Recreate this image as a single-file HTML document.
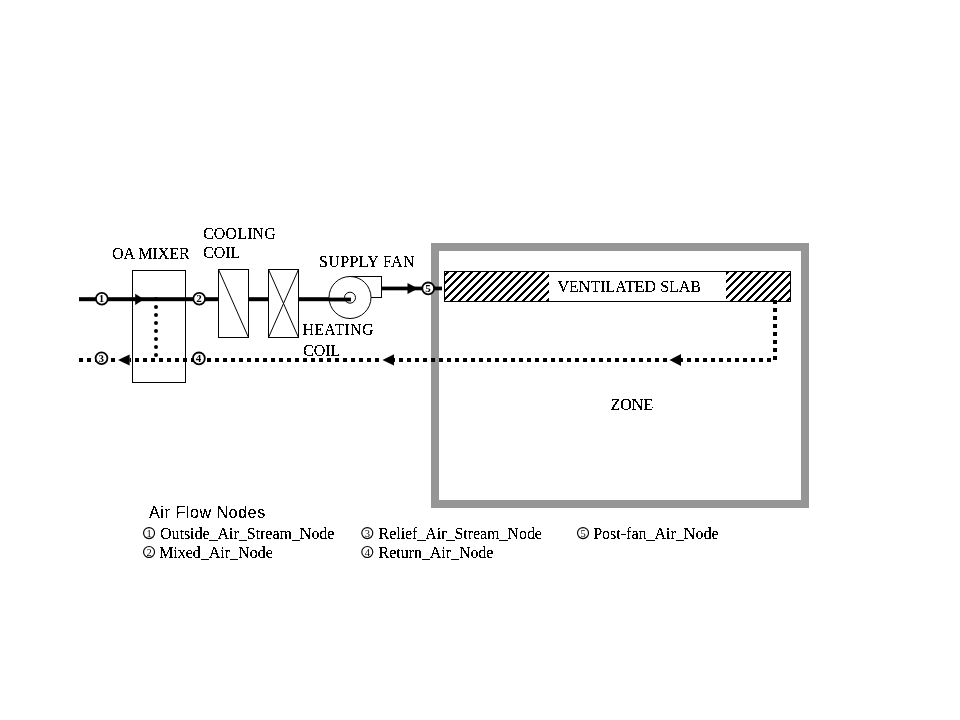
<!DOCTYPE html>
<html><head><meta charset="utf-8"><title>Ventilated Slab Diagram</title>
<style>
html,body{margin:0;padding:0;background:#fff;width:960px;height:720px;overflow:hidden}
svg{display:block}
.s{font-family:"Liberation Serif",serif;font-size:16px;fill:#000}
.a{font-family:"Liberation Sans",sans-serif;font-size:16px;fill:#000}
.d{font-family:"Liberation Serif",serif;font-size:10px;fill:#000;text-anchor:middle}
</style></head>
<body>
<svg width="960" height="720" viewBox="0 0 960 720">
<defs><pattern id="h" patternUnits="userSpaceOnUse" x="0" y="0" width="8" height="8"><path shape-rendering="crispEdges" fill="#000" d="M0 0h1v1h-1zM6 0h2v1h-2zM5 1h3v1h-3zM4 2h3v1h-3zM3 3h3v1h-3zM2 4h3v1h-3zM1 5h3v1h-3zM0 6h3v1h-3zM0 7h2v1h-2zM7 7h1v1h-1z"/></pattern>
<filter id="gs" x="0" y="0" width="100%" height="100%" color-interpolation-filters="sRGB"><feOffset dx="0" dy="0"/></filter>
<filter id="crisp" x="0" y="0" width="100%" height="100%" color-interpolation-filters="sRGB"><feComponentTransfer><feFuncA type="discrete" tableValues="0 0 0 0 0 0 0 0 1 1 1 1 1 1 1 1 1 1 1 1"/></feComponentTransfer></filter>
</defs>
<rect width="960" height="720" fill="#fff"/>
<rect x="435" y="247" width="370" height="257" fill="none" stroke="#969696" stroke-width="8" shape-rendering="crispEdges"/>
<rect x="444.5" y="271.5" width="346" height="30" fill="#fff" stroke="#000" stroke-width="1" shape-rendering="crispEdges"/>
<rect x="445" y="272" width="104" height="29" fill="url(#h)" shape-rendering="crispEdges"/>
<rect x="726" y="272" width="64" height="29" fill="url(#h)" shape-rendering="crispEdges"/>
<rect x="132.5" y="270.5" width="53" height="112" fill="#fff" stroke="#000" stroke-width="1" shape-rendering="crispEdges"/>
<rect x="79" y="297.2" width="272" height="4" fill="#000"/>
<rect x="218.5" y="269.5" width="30" height="68" fill="#fff" stroke="#000" stroke-width="1"/>
<line x1="218.5" y1="269.5" x2="248.5" y2="337.5" stroke="#000" stroke-width="1"/>
<rect x="268.5" y="269.5" width="30" height="68" fill="#fff" stroke="#000" stroke-width="1"/>
<line x1="268.5" y1="269.5" x2="298.5" y2="337.5" stroke="#000" stroke-width="1"/>
<line x1="298.5" y1="269.5" x2="268.5" y2="337.5" stroke="#000" stroke-width="1"/>
<rect x="350" y="276.5" width="31.5" height="21" fill="#fff" stroke="#000" stroke-width="1"/>
<circle cx="350" cy="297.5" r="21" fill="#fff" stroke="#000" stroke-width="1"/>
<circle cx="350" cy="297.7" r="5.5" fill="none" stroke="#000" stroke-width="1"/>
<rect x="329" y="297.6" width="22" height="3.8" fill="#000"/>
<rect x="381.5" y="286.6" width="60.5" height="3.7" fill="#000"/>
<path d="M407.5 282.9L418 288.45L407.5 294z" fill="#000"/>
<path d="M135.2 293.7L144 299.3L135.2 304.9z" fill="#000"/>
<g fill="#000"><circle cx="156" cy="299" r="2"/><circle cx="156" cy="307" r="2"/><circle cx="156" cy="315" r="2"/><circle cx="156" cy="323" r="2"/><circle cx="156" cy="331" r="2"/><circle cx="156" cy="339" r="2"/><circle cx="156" cy="347" r="2"/><circle cx="156" cy="355" r="2"/></g>
<line x1="775" y1="300" x2="775" y2="360" stroke="#000" stroke-width="4" stroke-dasharray="4 4" shape-rendering="crispEdges"/>
<line x1="79" y1="360" x2="771" y2="360" stroke="#000" stroke-width="4" stroke-dasharray="4 4" shape-rendering="crispEdges"/>
<rect x="669" y="357.5" width="12" height="5" fill="#fff"/><rect x="382" y="357.5" width="12" height="5" fill="#fff"/><rect x="117.5" y="357.5" width="12" height="5" fill="#fff"/>
<path d="M669.5 360L681 354L681 366z" fill="#000"/>
<path d="M382.5 360L394 354.2L394 365.6z" fill="#000"/>
<path d="M118 360L129.6 354.6L129.6 365.4z" fill="#000"/>
<circle cx="101.8" cy="298.7" r="5.9" fill="#fff" stroke="#000" stroke-width="1.8"/><circle cx="199.2" cy="298.7" r="5.9" fill="#fff" stroke="#000" stroke-width="1.8"/><circle cx="101.5" cy="358.3" r="5.9" fill="#fff" stroke="#000" stroke-width="1.8"/><circle cx="198.9" cy="358.4" r="5.9" fill="#fff" stroke="#000" stroke-width="1.8"/><circle cx="428.2" cy="288.4" r="5.9" fill="#fff" stroke="#000" stroke-width="1.8"/>
<g filter="url(#crisp)">
<text class="s" x="112" y="259">OA MIXER</text><text class="s" x="203" y="238.75" letter-spacing="0.13">COOLING</text><text class="s" x="203" y="258">COIL</text><text class="s" x="319" y="267" letter-spacing="0.37">SUPPLY FAN</text><text class="s" x="302.5" y="335.4" letter-spacing="0.27">HEATING</text><text class="s" x="303" y="356">COIL</text><text class="s" x="557.5" y="292.2">VENTILATED SLAB</text><text class="s" x="610.5" y="410">ZONE</text><text class="a" x="149" y="517.6" letter-spacing="0.6">Air Flow Nodes</text><text class="s" x="160" y="538.7" letter-spacing="-0.03">Outside_Air_Stream_Node</text><text class="s" x="159" y="557.5">Mixed_Air_Node</text><text class="s" x="378.6" y="538.7" letter-spacing="-0.05">Relief_Air_Stream_Node</text><text class="s" x="378.6" y="557.5" letter-spacing="-0.05">Return_Air_Node</text><text class="s" x="593.2" y="538.7">Post-fan_Air_Node</text>
</g>
<g filter="url(#gs)"><text class="d" x="101.5" y="302.3" style="font-size:11px;font-weight:bold">1</text><text class="d" x="198.9" y="302.3" style="font-size:11px;font-weight:bold">2</text><text class="d" x="101.2" y="361.9" style="font-size:11px;font-weight:bold">3</text><text class="d" x="198.6" y="362.0" style="font-size:11px;font-weight:bold">4</text><text class="d" x="427.9" y="292.0" style="font-size:11px;font-weight:bold">5</text><circle cx="149.05" cy="533.1" r="5.5" fill="none" stroke="#000" stroke-width="1.15"/><text class="d" x="149.05" y="536.7" style="font-size:10.5px">1</text><circle cx="149.05" cy="552" r="5.5" fill="none" stroke="#000" stroke-width="1.15"/><text class="d" x="149.05" y="555.6" style="font-size:10.5px">2</text><circle cx="367.3" cy="533.1" r="5.5" fill="none" stroke="#000" stroke-width="1.15"/><text class="d" x="367.3" y="536.7" style="font-size:10.5px">3</text><circle cx="367.3" cy="552" r="5.5" fill="none" stroke="#000" stroke-width="1.15"/><text class="d" x="367.3" y="555.6" style="font-size:10.5px">4</text><circle cx="583.0" cy="533.1" r="5.5" fill="none" stroke="#000" stroke-width="1.15"/><text class="d" x="583.0" y="536.7" style="font-size:10.5px">5</text></g>
</svg>
</body></html>
